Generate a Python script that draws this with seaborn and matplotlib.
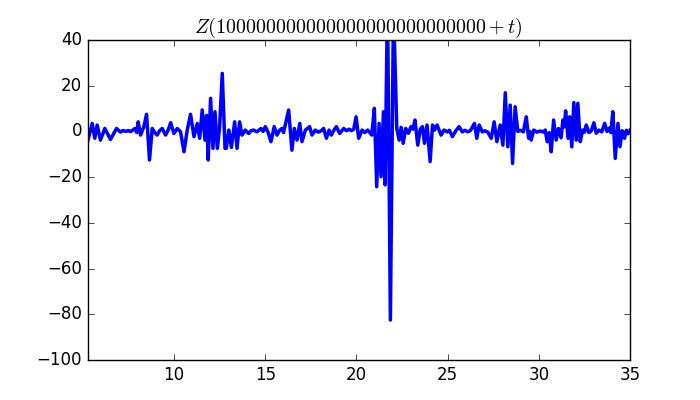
import matplotlib
matplotlib.use("Agg")
import matplotlib.pyplot as plt
import seaborn as sns
import pandas as pd

plt.style.use("classic")

t_vals = [5.27, 5.51, 5.65, 5.78, 5.96, 6.20, 6.51, 6.84, 7.06, 7.20, 7.34, 7.48, 7.61,
          7.85, 7.95, 8.03, 8.16, 8.34, 8.49, 8.65, 8.80, 8.92, 9.07, 9.20, 9.35, 9.53,
          9.67, 9.81, 9.99, 10.17, 10.35, 10.54, 10.72, 10.90, 11.09, 11.27, 11.40, 11.54,
          11.69, 11.78, 11.87, 12.00, 12.13, 12.24, 12.37, 12.49, 12.64, 12.79, 12.86,
          13.00, 13.14, 13.32, 13.45, 13.59, 13.72, 13.90, 14.09, 14.22, 14.36, 14.54,
          14.76, 14.88, 15.00, 15.15, 15.31, 15.49, 15.64, 15.78, 15.92, 16.00, 16.28,
          16.46, 16.59, 16.74, 16.89, 17.01, 17.20, 17.43, 17.56, 17.74, 17.90, 18.05,
          18.20, 18.35, 18.50, 18.62, 18.75, 18.90, 19.08, 19.20, 19.30, 19.45, 19.60,
          19.72, 19.85, 19.98, 20.12, 20.31, 20.45, 20.62, 20.84, 20.98, 21.11, 21.24,
          21.35, 21.48, 21.57, 21.70, 21.86, 22.03, 22.21, 22.34, 22.45, 22.56, 22.70,
          22.85, 22.99, 23.10, 23.21, 23.36, 23.50, 23.62, 23.73, 23.87, 24.04, 24.17,
          24.28, 24.42, 24.64, 24.80, 24.98, 25.10, 25.26, 25.45, 25.63, 25.80, 25.95,
          26.10, 26.25, 26.47, 26.60, 26.73, 26.90, 27.05, 27.20, 27.39, 27.55, 27.70,
          27.88, 28.03, 28.16, 28.30, 28.43, 28.56, 28.70, 28.85, 29.00, 29.15, 29.31,
          29.44, 29.51, 29.58, 29.72, 29.90, 30.08, 30.25, 30.35, 30.46, 30.57, 30.68,
          30.81, 30.95, 31.08, 31.22, 31.32, 31.40, 31.47, 31.60, 31.69, 31.81, 31.92,
          32.05, 32.14, 32.27, 32.40, 32.50, 32.60, 32.75, 32.88, 33.02, 33.15, 33.30,
          33.45, 33.61, 33.74, 33.87, 33.95, 34.06, 34.19, 34.34, 34.45, 34.57, 34.70,
          34.80, 34.90, 35.00]

z_vals = [-4.0, 3.5, -3.0, 2.8, -3.8, 1.3, -3.5, 1.3, -0.3, 0.4, 0.0, 0.4, -0.1,
          1.3, -0.5, 4.2, -1.6, 2.1, 7.5, -12.5, 1.3, -0.3, -1.6, 0.3, 1.3, -1.6,
          0.5, 3.8, -0.9, 1.3, -0.1, -8.9, 0.6, 7.5, -2.3, 3.5, -3.0, 9.4,
          -3.8, 7.0, -12.5, 14.5, -7.4, 8.6, -7.4, 1.5, 25.4, -7.4, -7.4,
          0.6, -7.0, 4.2, -7.4, 4.2, -1.6, 0.6, -0.9, 0.3, 0.6, -0.2,
          1.3, 0.0, 2.1, -0.3, -4.5, 2.1, -1.6, 0.5, 1.3, -0.5, 9.4,
          -8.2, 1.3, -3.8, 3.5, -4.5, 0.6, 2.1, -1.6, 0.6, -0.3, 0.2,
          1.3, -3.0, 0.6, -1.6, 0.4, 2.1, -0.9, 0.3, 1.3, 0.3, 1.0,
          0.3, 1.0, 6.4, -3.0, 0.6, -0.5, 0.6, -1.6, 10.1, -24.2, 3.5,
          -19.8, 8.6, -23.4, 60.0, -82.5, 55.0, 1.3, -3.8, 1.8, -5.2, 1.3,
          -0.8, 2.1, 1.0, 5.0, -6.0, 1.0, 2.1, -5.2, 2.8, -13.2, 2.8,
          0.6, 2.8, -1.6, 0.6, -0.2, 0.5, -2.3, 0.3, 2.1, -0.2, 0.5,
          -0.2, 0.4, 3.5, -3.0, 2.8, -0.2, 0.3, -0.3, -3.0, 4.2, -4.5,
          2.8, -6.0, 16.9, -6.7, 11.5, -14.0, 10.8, 0.0, 0.5, -0.2, 6.4,
          -3.0, 0.0, -3.8, 0.6, -0.3, 0.2, -0.3, 0.6, -4.5, -0.5, -8.9,
          5.0, -3.8, 1.3, -2.8, 5.0, 2.0, 9.0, -3.0, 6.4, -6.7, 12.6,
          -3.8, 12.3, -4.5, 0.6, -0.3, 2.8, -0.5, 0.3, 3.8, -0.8, 0.6,
          -0.2, 3.5, 0.0, 1.5, -0.5, 8.6, -11.8, 3.5, -6.7, 0.3, -3.0,
          0.5, -1.0, 0.5]

title_text = r"$Z(100000000000000000000000000+t)$"

df = pd.DataFrame({"t": t_vals, "z": z_vals})

fig = plt.figure(figsize=(7, 4), dpi=100, facecolor="white")
ax = fig.add_subplot(111)
sns.lineplot(data=df, x="t", y="z", color="b", linewidth=2.5, ax=ax,
             estimator=None, sort=False)
ax.set_xlim(5.25, 35)
ax.set_ylim(-100, 40)
ax.set_xlabel("")
ax.set_ylabel("")
ax.set_title(title_text)
fig.savefig("out.png", dpi=100, facecolor="white")
